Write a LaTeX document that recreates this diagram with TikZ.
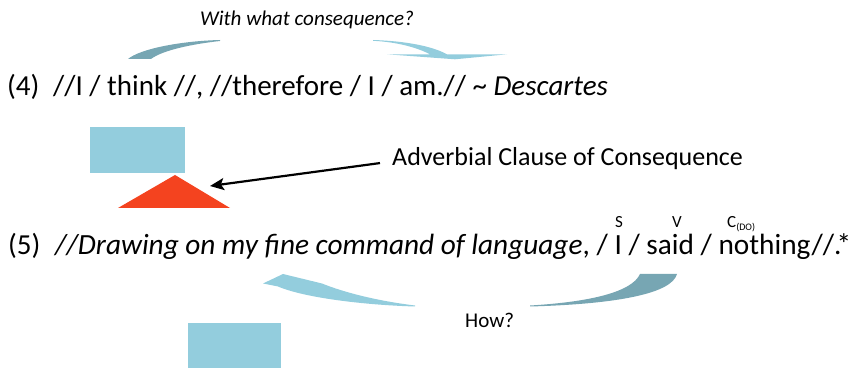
\documentclass[tikz,border=0pt]{standalone}
\usepackage{fontspec}
\setmainfont{Carlito}
\usetikzlibrary{arrows.meta}
\definecolor{boxblue}{HTML}{93CDDD}
\definecolor{swdark}{HTML}{77A6B3}
\definecolor{trired}{HTML}{F4431F}

\begin{document}
\begin{tikzpicture}[x=1pt,y=-1pt,
    txt/.style={inner sep=0pt,anchor=base west,font=\fontsize{29}{32}\selectfont},
    note/.style={inner sep=0pt,anchor=base west,font=\fontsize{21}{24}\selectfont},
    lbl/.style={inner sep=0pt,anchor=base,font=\fontsize{17}{20}\selectfont},
    blk/.style={fill=boxblue,inner sep=0pt,anchor=north west},
    arr/.style={-{Stealth[length=14pt,width=12pt,inset=3pt]},line width=2.2pt}]
    \useasboundingbox (0,0) rectangle (857,371);

    % question above (4)
    \node[note] (q4) at (200,26) {\itshape With what consequence?};
    \fill[swdark] (128,59) .. controls (140,49) and (180,41) .. (220,40)
      -- (220,41) .. controls (193,44) and (163,50) .. (151,59) -- cycle;
    \fill[boxblue] (373,40) .. controls (405,41) and (432,46) .. (447,54.3)
      -- (507,54.3) -- (455,59.3) -- (387,54.3) -- (430,54.3)
      .. controls (418,48) and (398,42) .. (373,40.8) -- cycle;

    % example (4)
    \node[txt] (n4) at (7,96) {(4)};
    \node[txt] (s4) at (53,96) {//I / think //, //therefore / I / am.// \textasciitilde{} \textit{Descartes}};

    \node[blk,minimum width=95,minimum height=46] (b1) at (90,127) {};
    \fill[trired] (175,175) -- (230,208) -- (118,208) -- cycle;
    \coordinate (tip) at (210,186);
    \node[txt,font=\fontsize{26}{30}\selectfont] (acc) at (392,166) {Adverbial Clause of Consequence};
    \draw[arr] ([xshift=-12pt,yshift=-4pt]acc.west) -- (tip);

    % example (5)
    \node[lbl] (subj) at (619,228) {S};
    \node[lbl] (verb) at (677,228) {V};
    \node[lbl,anchor=base west] (comp) at (727,228) {C\raisebox{-3pt}{\fontsize{10}{11}\selectfont (DO)}};
    \node[txt] (n5) at (8,255) {(5)};
    \node[txt,font=\fontsize{29.3}{32}\selectfont] (s5) at (55,255) {\textit{//Drawing on my fine command of language}, / I / said / nothing//.\kern-5pt*};

    \fill[swdark] (640,274) -- (677,274) .. controls (672,293) and (620,304) .. (530,306.5)
      -- (530,305.5) .. controls (590,302) and (632,292) .. (640,274) -- cycle;
    \fill[boxblue] (263,283.5) -- (283,274) -- (322,283.5)
      .. controls (338,290) and (370,300) .. (415,305.5)
      -- (415,306.5) .. controls (365,305) and (305,298) .. (278,286.5) -- cycle;
    \node[note] (how) at (465,327) {How?};

    \node[blk,minimum width=93,minimum height=45] (b2) at (188,323) {};
\end{tikzpicture}
\end{document}
